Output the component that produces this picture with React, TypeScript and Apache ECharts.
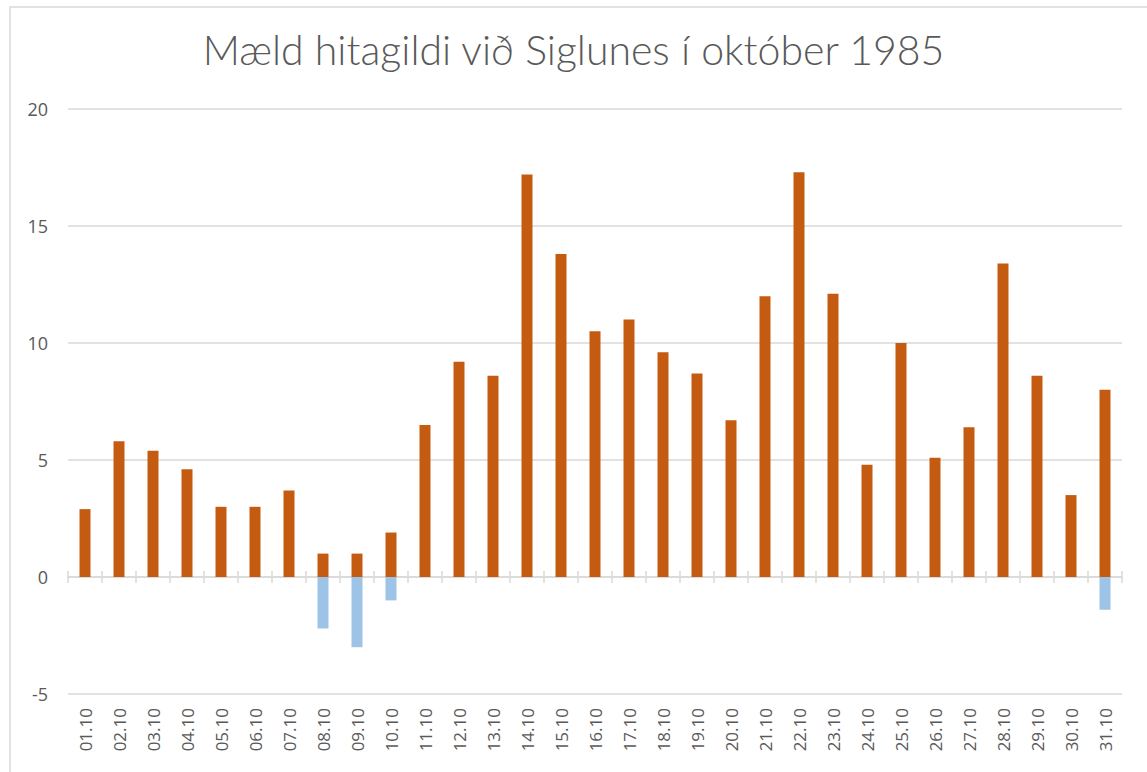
import React, { useEffect, useRef } from "react";
import * as echarts from "echarts";

const days: string[] = [
  "01.10", "02.10", "03.10", "04.10", "05.10", "06.10", "07.10", "08.10", "09.10", "10.10",
  "11.10", "12.10", "13.10", "14.10", "15.10", "16.10", "17.10", "18.10", "19.10", "20.10",
  "21.10", "22.10", "23.10", "24.10", "25.10", "26.10", "27.10", "28.10", "29.10", "30.10", "31.10",
];

const maxTemp: number[] = [
  2.9, 5.8, 5.4, 4.6, 3.0, 3.0, 3.7, 1.0, 1.0, 1.9,
  6.5, 9.2, 8.6, 17.2, 13.8, 10.5, 11.0, 9.6, 8.7, 6.7,
  12.0, 17.3, 12.1, 4.8, 10.0, 5.1, 6.4, 13.4, 8.6, 3.5, 8.0,
];

const minTemp: (number | null)[] = [
  null, null, null, null, null, null, null, -2.2, -3.0, -1.0,
  null, null, null, null, null, null, null, null, null, null,
  null, null, null, null, null, null, null, null, null, null, -1.4,
];

const yTicks = { min: -5, max: 20, interval: 5 };

const TEXT = "#595959";
const GRIDC = "#d9d9d9";
const FONT = "'Open Sans', 'Liberation Sans', sans-serif";

export default function App() {
  const ref = useRef<HTMLDivElement>(null);
  useEffect(() => {
    if (!ref.current) return;
    const chart = echarts.init(ref.current, undefined, { renderer: "svg" });
    const lastIdx = days.length - 1;
    chart.setOption({
      animation: false,
      backgroundColor: "#ffffff",
      title: {
        text: "Mæld hitagildi við Siglunes í október 1985",
        left: "center",
        top: 24,
        textStyle: {
          fontFamily: "Lato, 'Open Sans', sans-serif",
          fontWeight: 300,
          fontSize: 41,
          color: TEXT,
        },
      },
      graphic: [
        {
          type: "rect",
          shape: { x: 10, y: 7, width: 1200, height: 800 },
          style: { fill: "none", stroke: GRIDC, lineWidth: 1.5 },
          silent: true,
          z: -1,
        },
      ],
      grid: { left: 68, right: 25, top: 109, bottom: 78, containLabel: false },
      xAxis: [
        {
          type: "category",
          data: days,
          position: "bottom",
          axisLine: { show: false, onZero: false },
          axisTick: { show: false },
          axisLabel: {
            rotate: 90,
            margin: 14,
            interval: 0,
            fontFamily: FONT,
            fontSize: 17,
            color: TEXT,
          },
        },
        {
          type: "category",
          data: days,
          position: "bottom",
          axisLine: { show: true, onZero: true, lineStyle: { color: GRIDC, width: 1.5 } },
          axisTick: { show: false },
          axisLabel: { show: false },
        },
      ],
      yAxis: {
        type: "value",
        min: yTicks.min,
        max: yTicks.max,
        interval: yTicks.interval,
        axisLine: { show: false },
        axisTick: { show: false },
        splitLine: { lineStyle: { color: GRIDC, width: 1.5 } },
        axisLabel: {
          margin: 20,
          fontFamily: FONT,
          fontSize: 18,
          color: TEXT,
        },
      },
      series: [
        {
          name: "ticks",
          type: "custom",
          xAxisIndex: 0,
          silent: true,
          z: 1,
          data: days.map((_, i) => [i, 0]),
          renderItem: (params: any, api: any) => {
            const idx = api.value(0);
            const c = api.coord([idx, 0]);
            const w = api.size([1, 0])[0];
            const style = { stroke: GRIDC, lineWidth: 1.5 };
            const children: any[] = [
              {
                type: "line",
                shape: { x1: c[0] - w / 2, y1: c[1] - 6, x2: c[0] - w / 2, y2: c[1] + 6 },
                style,
              },
            ];
            if (idx === lastIdx) {
              children.push({
                type: "line",
                shape: { x1: c[0] + w / 2, y1: c[1] - 6, x2: c[0] + w / 2, y2: c[1] + 6 },
                style,
              });
            }
            return { type: "group", children };
          },
        },
        {
          name: "Lágmark",
          type: "bar",
          data: minTemp,
          barWidth: 11,
          barGap: "-100%",
          itemStyle: { color: "#9dc3e6" },
          z: 2,
        },
        {
          name: "Hámark",
          type: "bar",
          data: maxTemp,
          barWidth: 11,
          barGap: "-100%",
          itemStyle: { color: "#c55a11" },
          z: 3,
        },
      ],
    });
    return () => chart.dispose();
  }, []);
  return (
    <div
      ref={ref}
      style={{ position: "fixed", left: 0, top: 0, width: 1147, height: 772 }}
    />
  );
}
